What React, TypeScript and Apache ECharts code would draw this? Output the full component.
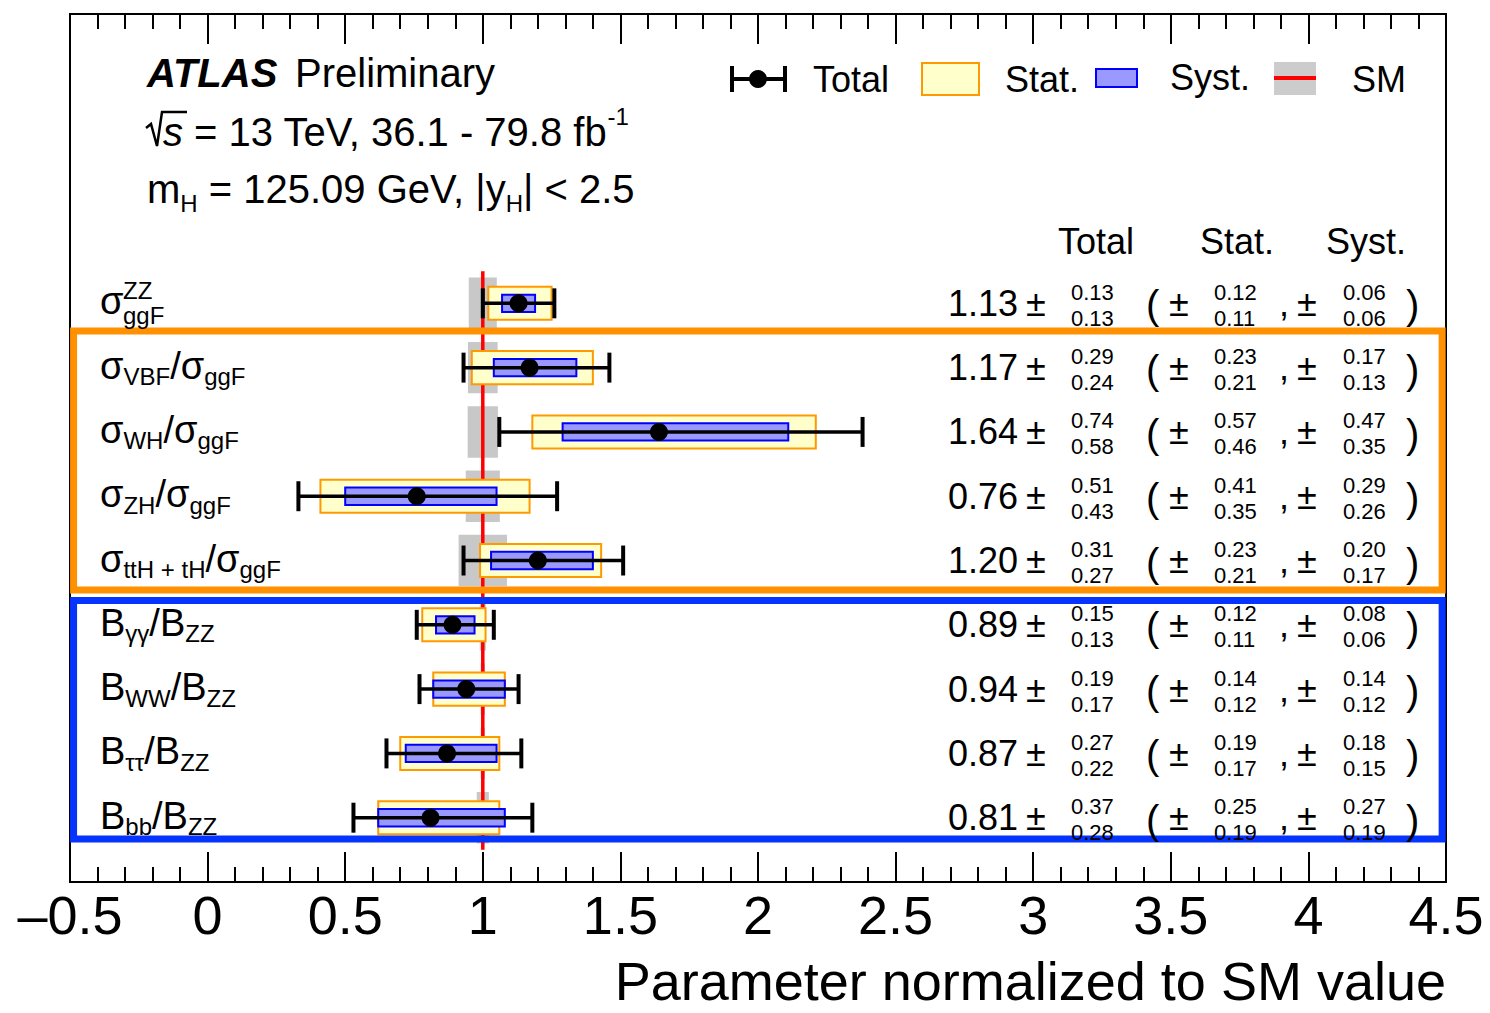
import React, { useEffect, useRef } from "react";
import * as echarts from "echarts";

const FONT = "'Liberation Sans', Arial, Helvetica, sans-serif";

// ---- data (rows from top to bottom) ----
const rowLabels = [
  "{m|σ}",
  "{m|σ}{s|VBF}{m|/σ}{s|ggF}",
  "{m|σ}{s|WH}{m|/σ}{s|ggF}",
  "{m|σ}{s|ZH}{m|/σ}{s|ggF}",
  "{m|σ}{s|ttH + tH}{m|/σ}{s|ggF}",
  "{m|B}{s|γγ}{m|/B}{s|ZZ}",
  "{m|B}{s|WW}{m|/B}{s|ZZ}",
  "{m|B}{s|ττ}{m|/B}{s|ZZ}",
  "{m|B}{s|bb}{m|/B}{s|ZZ}",
];
// stacked super/subscripts (only the first row uses them)
const rowStackedSup = ["ZZ", "", "", "", "", "", "", "", ""];
const rowStackedSub = ["ggF", "", "", "", "", "", "", "", ""];
const centralValues = [1.13, 1.17, 1.64, 0.76, 1.2, 0.89, 0.94, 0.87, 0.81];
const totalUp = [0.13, 0.29, 0.74, 0.51, 0.31, 0.15, 0.19, 0.27, 0.37];
const totalDown = [0.13, 0.24, 0.58, 0.43, 0.27, 0.13, 0.17, 0.22, 0.28];
const statUp = [0.12, 0.23, 0.57, 0.41, 0.23, 0.12, 0.14, 0.19, 0.25];
const statDown = [0.11, 0.21, 0.46, 0.35, 0.21, 0.11, 0.12, 0.17, 0.19];
const systUp = [0.06, 0.17, 0.47, 0.29, 0.2, 0.08, 0.14, 0.18, 0.27];
const systDown = [0.06, 0.13, 0.35, 0.26, 0.17, 0.06, 0.12, 0.15, 0.19];
const smUncertainty = [0.051, 0.054, 0.055, 0.062, 0.088, 0.011, 0.008, 0.008, 0.022];
const smValue = 1;
const columnHeaders = ["Total", "Stat.", "Syst."];
const legendLabels = ["Total", "Stat.", "Syst.", "SM"];

// ---- layout constants ----
const BAND_H = 0.4;
const STAT_H = 0.257;
const SYST_H = 0.135;
const CAP_H = 0.233;
const frameRects = [
  [-0.487, 0.43, 4.486, 4.46],
  [-0.487, 4.62, 4.486, 8.33],
];
const frameColors = ["#ff9000", "#0534ff"];

const rowIdx = centralValues.map((_, i) => i);

const LABEL_RICH = {
  m: { fontSize: 38, fontFamily: FONT, fill: "#000" },
  s: { fontSize: 24, fontFamily: FONT, fill: "#000", padding: [22, 0, 0, 0] },
};

function rectFrom(api: any, x0: number, x1: number, y0: number, y1: number) {
  const a = api.coord([x0, y0]);
  const b = api.coord([x1, y1]);
  return {
    x: Math.min(a[0], b[0]),
    y: Math.min(a[1], b[1]),
    width: Math.abs(b[0] - a[0]),
    height: Math.abs(b[1] - a[1]),
  };
}

function renderBand(params: any, api: any) {
  const x = api.value(0);
  const i = api.value(1);
  const hw = api.value(2);
  return {
    type: "rect",
    shape: rectFrom(api, x - hw, x + hw, i - BAND_H, i + BAND_H),
    style: { fill: "#c8c8c8" },
  };
}

function renderSMLine(params: any, api: any) {
  const a = api.coord([api.value(0), api.value(1)]);
  const b = api.coord([api.value(0), api.value(2)]);
  return {
    type: "line",
    shape: { x1: a[0], y1: a[1], x2: b[0], y2: b[1] },
    style: { stroke: "#ff0000", lineWidth: 3.5 },
  };
}

function renderMeasurement(params: any, api: any) {
  const i = api.value(0);
  const c = api.value(1);
  const tU = api.value(2);
  const tD = api.value(3);
  const sU = api.value(4);
  const sD = api.value(5);
  const yU = api.value(6);
  const yD = api.value(7);
  const pc = api.coord([c, i]);
  const pl = api.coord([c - tD, i]);
  const pr = api.coord([c + tU, i]);
  const capTop = api.coord([c, i - CAP_H])[1];
  const capBot = api.coord([c, i + CAP_H])[1];
  return {
    type: "group",
    children: [
      {
        type: "rect",
        shape: rectFrom(api, c - sD, c + sU, i - STAT_H, i + STAT_H),
        style: { fill: "#ffffcc", stroke: "#ff9900", lineWidth: 2 },
      },
      {
        type: "rect",
        shape: rectFrom(api, c - yD, c + yU, i - SYST_H, i + SYST_H),
        style: { fill: "#9999ff", stroke: "#0000ff", lineWidth: 2 },
      },
      {
        type: "line",
        shape: { x1: pl[0], y1: pl[1], x2: pr[0], y2: pr[1] },
        style: { stroke: "#000", lineWidth: 3.5 },
      },
      {
        type: "line",
        shape: { x1: pl[0], y1: capTop, x2: pl[0], y2: capBot },
        style: { stroke: "#000", lineWidth: 4 },
      },
      {
        type: "line",
        shape: { x1: pr[0], y1: capTop, x2: pr[0], y2: capBot },
        style: { stroke: "#000", lineWidth: 4 },
      },
      {
        type: "circle",
        shape: { cx: pc[0], cy: pc[1], r: 9 },
        style: { fill: "#000" },
      },
    ],
  };
}

function renderFrame(params: any, api: any) {
  return {
    type: "rect",
    shape: rectFrom(api, api.value(0), api.value(2), api.value(1), api.value(3)),
    style: { fill: "none", stroke: frameColors[params.dataIndex], lineWidth: 7 },
  };
}

function txt(x: number, y: number, text: string, size: number, align = "left", extra: any = {}) {
  return {
    type: "text",
    x,
    y,
    silent: true,
    style: {
      text,
      fontSize: size,
      fontFamily: FONT,
      fill: "#000",
      align,
      verticalAlign: "middle",
      ...extra,
    },
  };
}

function renderRowText(params: any, api: any) {
  const i = params.dataIndex;
  const y = api.coord([0, api.value(1)])[1];
  const f = (v: number) => v.toFixed(2);
  const children: any[] = [
    {
      type: "text",
      x: 100,
      y: y - 2,
      silent: true,
      style: {
        text: rowLabels[i],
        rich: LABEL_RICH,
        fontSize: 38,
        fontFamily: FONT,
        fill: "#000",
        align: "left",
        verticalAlign: "middle",
      },
    },
  ];
  if (rowStackedSup[i]) children.push(txt(123, y - 13, rowStackedSup[i], 24));
  if (rowStackedSub[i]) children.push(txt(123, y + 12, rowStackedSub[i], 24));
  children.push(txt(1018, y, f(centralValues[i]), 36, "right"));
  children.push(txt(1026, y, "±", 36));
  children.push(txt(1071, y - 11, f(totalUp[i]), 22));
  children.push(txt(1071, y + 15, f(totalDown[i]), 22));
  children.push(txt(1146, y + 2, "(", 40));
  children.push(txt(1169, y, "±", 36));
  children.push(txt(1214, y - 11, f(statUp[i]), 22));
  children.push(txt(1214, y + 15, f(statDown[i]), 22));
  children.push(txt(1279, y, ",", 36));
  children.push(txt(1297, y, "±", 36));
  children.push(txt(1343, y - 11, f(systUp[i]), 22));
  children.push(txt(1343, y + 15, f(systDown[i]), 22));
  children.push(txt(1406, y + 2, ")", 40));
  return { type: "group", children };
}

const tickFormatter = (v: number) => (v < 0 ? "\u2013" + Math.abs(v) : String(v));

function makeXAxis(position: "bottom" | "top") {
  return {
    type: "value",
    position,
    min: -0.5,
    max: 4.5,
    interval: 0.5,
    splitLine: { show: false },
    minorSplitLine: { show: false },
    axisLine: { show: true, onZero: false, lineStyle: { color: "#000", width: 2 } },
    axisTick: { show: true, inside: true, length: 30, lineStyle: { color: "#000", width: 2 } },
    minorTick: { show: true, splitNumber: 5, length: 15, lineStyle: { color: "#000", width: 2 } },
    axisLabel:
      position === "bottom"
        ? {
            show: true,
            margin: 6,
            fontSize: 54,
            fontFamily: FONT,
            color: "#000",
            formatter: tickFormatter,
            showMinLabel: true,
            showMaxLabel: true,
          }
        : { show: false },
  };
}

const headerGraphics: any[] = [
  txt(147, 73, "ATLAS", 40, "left", { fontWeight: "bold", fontStyle: "italic" }),
  txt(295, 73, "Preliminary", 40),
  {
    type: "polyline",
    silent: true,
    shape: { points: [[146, 128], [151, 124], [157, 146], [162, 112], [187, 112]] },
    style: { stroke: "#000", lineWidth: 2.5, fill: "none" },
  },
  {
    type: "text",
    x: 163,
    y: 132,
    silent: true,
    style: {
      text: "{i|s}{n| = 13 TeV, 36.1 - 79.8 fb}{p|-1}",
      fontSize: 40,
      fontFamily: FONT,
      fill: "#000",
      align: "left",
      verticalAlign: "middle",
      rich: {
        i: { fontSize: 40, fontFamily: FONT, fontStyle: "italic", fill: "#000" },
        n: { fontSize: 40, fontFamily: FONT, fill: "#000" },
        p: { fontSize: 24, fontFamily: FONT, fill: "#000", padding: [0, 0, 32, 0] },
      },
    },
  },
  {
    type: "text",
    x: 147,
    y: 189,
    silent: true,
    style: {
      text: "{n|m}{b|H}{n| = 125.09 GeV, |y}{b|H}{n|| < 2.5}",
      fontSize: 40,
      fontFamily: FONT,
      fill: "#000",
      align: "left",
      verticalAlign: "middle",
      rich: {
        n: { fontSize: 40, fontFamily: FONT, fill: "#000" },
        b: { fontSize: 24, fontFamily: FONT, fill: "#000", padding: [28, 0, 0, 0] },
      },
    },
  },
  txt(1058, 241, columnHeaders[0], 36),
  txt(1200, 241, columnHeaders[1], 36),
  txt(1326, 241, columnHeaders[2], 36),
  // legend
  { type: "line", silent: true, shape: { x1: 731, y1: 79, x2: 786, y2: 79 }, style: { stroke: "#000", lineWidth: 4 } },
  { type: "line", silent: true, shape: { x1: 732, y1: 66, x2: 732, y2: 92 }, style: { stroke: "#000", lineWidth: 4 } },
  { type: "line", silent: true, shape: { x1: 785, y1: 66, x2: 785, y2: 92 }, style: { stroke: "#000", lineWidth: 4 } },
  { type: "circle", silent: true, shape: { cx: 758, cy: 79, r: 9 }, style: { fill: "#000" } },
  txt(813, 79, legendLabels[0], 36),
  { type: "rect", silent: true, shape: { x: 922, y: 63, width: 57, height: 32 }, style: { fill: "#ffffcc", stroke: "#ff9900", lineWidth: 2 } },
  txt(1005, 79, legendLabels[1], 36),
  { type: "rect", silent: true, shape: { x: 1096, y: 69, width: 41, height: 18 }, style: { fill: "#9999ff", stroke: "#0000ff", lineWidth: 2 } },
  txt(1170, 77, legendLabels[2], 36),
  { type: "rect", silent: true, shape: { x: 1274, y: 62, width: 42, height: 33 }, style: { fill: "#cccccc" } },
  { type: "line", silent: true, shape: { x1: 1274, y1: 78, x2: 1316, y2: 78 }, style: { stroke: "#ff0000", lineWidth: 4 } },
  txt(1352, 79, legendLabels[3], 36),
  // axis title
  txt(1446, 981, "Parameter normalized to SM value", 54, "right"),
];

export default function App() {
  const ref = useRef<HTMLDivElement>(null);
  useEffect(() => {
    if (!ref.current) return;
    const chart = echarts.init(ref.current, undefined, { renderer: "svg" });
    const option: any = {
      animation: false,
      backgroundColor: "#ffffff",
      grid: {
        left: 70,
        right: 44,
        top: 14,
        bottom: 131,
        show: true,
        borderColor: "#000",
        borderWidth: 2,
        backgroundColor: "transparent",
      },
      xAxis: [makeXAxis("bottom"), makeXAxis("top")],
      yAxis: { type: "value", min: -4.5, max: 9, inverse: true, show: false },
      series: [
        {
          type: "custom",
          name: "SM uncertainty",
          coordinateSystem: "cartesian2d",
          encode: { x: 0, y: 1 },
          data: rowIdx.map((i) => [smValue, i, smUncertainty[i]]),
          renderItem: renderBand,
          silent: true,
        },
        {
          type: "custom",
          name: "SM",
          coordinateSystem: "cartesian2d",
          encode: { x: 0, y: 1 },
          data: [[smValue, -0.5, rowIdx.length - 0.5]],
          renderItem: renderSMLine,
          silent: true,
        },
        {
          type: "custom",
          name: "Measurements",
          coordinateSystem: "cartesian2d",
          encode: { x: 1, y: 0 },
          data: rowIdx.map((i) => [
            i,
            centralValues[i],
            totalUp[i],
            totalDown[i],
            statUp[i],
            statDown[i],
            systUp[i],
            systDown[i],
          ]),
          renderItem: renderMeasurement,
          silent: true,
        },
        {
          type: "custom",
          name: "Groups",
          coordinateSystem: "cartesian2d",
          encode: { x: 0, y: 1 },
          data: frameRects,
          renderItem: renderFrame,
          silent: true,
        },
        {
          type: "custom",
          name: "Row text",
          coordinateSystem: "cartesian2d",
          encode: { x: 0, y: 1 },
          data: rowIdx.map((i) => [0, i]),
          renderItem: renderRowText,
          silent: true,
        },
      ],
      graphic: headerGraphics,
    };
    chart.setOption(option);
    return () => chart.dispose();
  }, []);
  return (
    <div
      ref={ref}
      style={{ position: "fixed", left: 0, top: 0, width: 1490, height: 1013, background: "#fff" }}
    />
  );
}
